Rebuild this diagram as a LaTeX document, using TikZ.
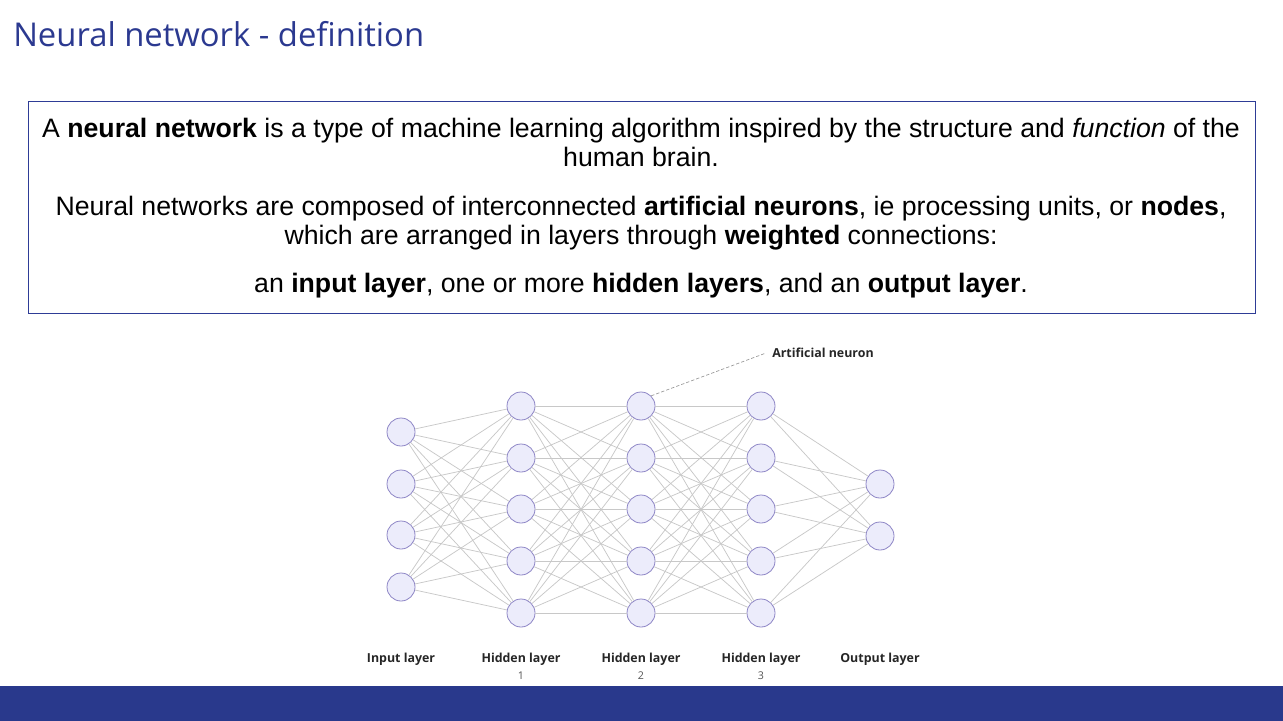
\documentclass[tikz,border=0pt]{standalone}
\usepackage{fontspec}
\setmainfont{Liberation Sans}
\newfontfamily\titlefont{Open Sans}
\newfontfamily\labfont{Open Sans}
\newfontfamily\numfont{Open Sans}
\definecolor{titleblue}{HTML}{2B3990}
\definecolor{barblue}{HTML}{29398C}
\definecolor{boxblue}{HTML}{2E3C96}
\definecolor{nfill}{HTML}{ECECFB}
\definecolor{nline}{HTML}{8E86C6}
\definecolor{edge}{HTML}{C8C8C8}
\definecolor{numgray}{HTML}{555555}
\begin{document}
\begin{tikzpicture}[x=0.75pt,y=-0.75pt,
  neuron/.style={circle,draw=nline,fill=nfill,line width=0.6pt,minimum size=21pt,inner sep=0pt},
  wire/.style={draw=edge,line width=0.55pt},
  bodytext/.style={anchor=base,font=\fontsize{20}{24}\selectfont,inner sep=0pt},
  laylab/.style={anchor=base,font=\labfont\bfseries\fontsize{9.3}{11}\selectfont,text=black!85,inner sep=0pt},
  laynum/.style={anchor=base,font=\numfont\fontsize{8}{9}\selectfont,text=numgray,inner sep=0pt}]
\useasboundingbox (0,0) rectangle (1283,721);
\fill[white] (0,0) rectangle (1283,721);
% title
\node[anchor=base west,inner sep=0pt,text=titleblue,font=\titlefont\fontsize{24.6}{28}\selectfont] (title) at (13,46) {Neural network - definition};
% box
\draw[boxblue,line width=0.6pt] (28,101) rectangle (1255,313);
\node[bodytext] (l1) at (641,137) {A \textbf{neural network} is a type of machine learning algorithm inspired by the structure and \textit{function} of the};
\node[bodytext] (l2) at (641,166) {human brain.};
\node[bodytext] (l3) at (641,215) {Neural networks are composed of interconnected \textbf{artificial neurons}, ie processing units, or \textbf{nodes},};
\node[bodytext] (l4) at (641,244) {which are arranged in layers through \textbf{weighted} connections:};
\node[bodytext] (l5) at (641,292) {an \textbf{input layer}, one or more \textbf{hidden layers}, and an \textbf{output layer}.};
% neurons
\foreach \k/\y in {1/432,2/484,3/535,4/587} \node[neuron] (i\k) at (401,\y) {};
\foreach \k/\y in {1/406,2/458,3/509,4/561,5/613} {
  \node[neuron] (a\k) at (521,\y) {};
  \node[neuron] (b\k) at (641,\y) {};
  \node[neuron] (c\k) at (761,\y) {};
}
\foreach \k/\y in {1/484,2/536} \node[neuron] (o\k) at (880,\y) {};
% wires
\foreach \s in {1,...,4} \foreach \t in {1,...,5} \draw[wire] (i\s) -- (a\t);
\foreach \s in {1,...,5} \foreach \t in {1,...,5} {\draw[wire] (a\s) -- (b\t); \draw[wire] (b\s) -- (c\t);}
\foreach \s in {1,...,5} \foreach \t in {1,2} \draw[wire] (c\s) -- (o\t);
% annotation
\coordinate (annot) at (766,353);
\draw[gray!80,line width=0.5pt,dash pattern=on 2.5pt off 1.5pt] (b1.north east) -- (annot);
\node[anchor=west,inner sep=0pt,font=\labfont\bfseries\fontsize{9.3}{11}\selectfont,text=black!85] (annotlab) at (772,353) {Artificial neuron};
% layer labels
\node[laylab] (li) at (401,662) {Input layer};
\node[laylab] (lh1) at (521,662) {Hidden layer};
\node[laylab] (lh2) at (641,662) {Hidden layer};
\node[laylab] (lh3) at (761,662) {Hidden layer};
\node[laylab] (lo) at (880,662) {Output layer};
\node[laynum] (n1) at (521,679) {1};
\node[laynum] (n2) at (641,679) {2};
\node[laynum] (n3) at (761,679) {3};
% bottom bar
\fill[barblue] (0,686) rectangle (1283,721);
\end{tikzpicture}
\end{document}
